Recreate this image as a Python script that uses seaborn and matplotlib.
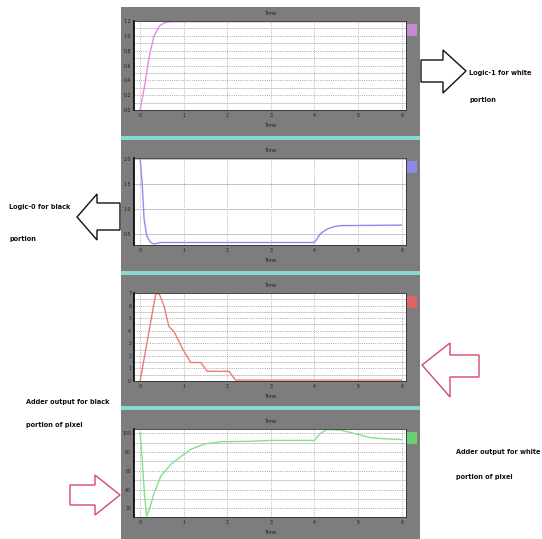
import numpy as np
import pandas as pd
import matplotlib
matplotlib.use("Agg")
import matplotlib.pyplot as plt
import seaborn as sns
from matplotlib.patches import Polygon, Rectangle, Patch
from matplotlib.ticker import MultipleLocator

# ---------------- data ----------------
x_ticks = [0, 1, 2, 3, 4, 5, 6]

t1 = [0, 0.09, 0.21, 0.32, 0.44, 0.55, 0.7, 6.1]
y1 = [0.0, 0.28, 0.72, 1.0, 1.13, 1.175, 1.19, 1.19]
y1_ticks = [0, 0.2, 0.4, 0.6, 0.8, 1.0, 1.2]

t2 = [0, 0.05, 0.09, 0.15, 0.24, 0.32, 0.47, 4.0, 4.07, 4.14, 4.29, 4.45, 4.6, 6.0]
y2 = [2.02, 1.48, 0.81, 0.46, 0.32, 0.29, 0.32, 0.32, 0.41, 0.50, 0.59, 0.64, 0.66, 0.67]
y2_ticks = [0.5, 1.0, 1.5, 2.0]

t3 = [0, 0.36, 0.44, 0.55, 0.66, 0.78, 0.97, 1.16, 1.39, 1.54, 2.04, 2.19, 6.0]
y3 = [0.0, 6.97, 6.93, 5.95, 4.34, 3.92, 2.59, 1.47, 1.47, 0.77, 0.77, 0.07, 0.07]
y3_ticks = [0, 1, 2, 3, 4, 5, 6, 7]

t4 = [0, 0.05, 0.1, 0.15, 0.22, 0.32, 0.48, 0.71, 0.94, 1.17, 1.48, 1.86, 2.5, 3.0,
      4.0, 4.07, 4.14, 4.29, 4.6, 4.98, 5.3, 5.6, 6.0]
y4 = [100.9, 70.0, 35.0, 11.5, 20.0, 36.0, 54.8, 67.1, 75.5, 83.1, 88.7, 91.1, 91.5, 92.5,
      92.5, 96.5, 100.0, 104.2, 103.6, 99.1, 95.3, 94.3, 93.4]
y4_ticks = [20, 40, 60, 80, 100]

panel_title = "Time"
panel_xlabel = "Time"

ann_logic1 = ["Logic-1 for white", "portion"]
ann_logic0 = ["Logic-0 for black", "portion"]
ann_add_black = ["Adder output for black", "portion of pixel"]
ann_add_white = ["Adder output for white", "portion of pixel"]

# ---------------- figure ----------------
sns.set_style("white")
W, H = 542, 539
fig = plt.figure(figsize=(W / 100, H / 100), dpi=100)
fig.patch.set_facecolor("white")

def fx(px):
    return px / W

def fy(py):
    return 1 - py / H

def rect_px(x0, y0, x1, y1, **kw):
    fig.add_artist(Rectangle((fx(x0), fy(y1)), fx(x1) - fx(x0), fy(y0) - fy(y1),
                             transform=fig.transFigure, **kw))

# gray scope background
rect_px(121, 7, 420, 539, facecolor="#7d7d7d", edgecolor="none", zorder=0)
# cyan separators
for yy in (136, 271, 406):
    rect_px(121, yy, 420, yy + 4, facecolor="#86d8d2", edgecolor="none", zorder=1)

panels = [
    (21, 110, t1, y1, (0, 1.2), y1_ticks, "#e58ae5", "#c58ad6", True),
    (158, 245, t2, y2, (0.27, 2.02), y2_ticks, "#8c8cf0", "#8a8ae6", False),
    (293, 381, t3, y3, (0, 7), y3_ticks, "#f07a7a", "#e06464", True),
    (429, 517, t4, y4, (10.6, 104.7), y4_ticks, "#86e08a", "#6ccf72", True),
]

for top, bot, tx, ty, ylim, yt, col, legcol, minor in panels:
    ax = fig.add_axes([fx(134), fy(bot), fx(406) - fx(134), fy(top) - fy(bot)])
    ax.set_facecolor("white")
    df = pd.DataFrame({"t": tx, "v": ty})
    sns.lineplot(data=df, x="t", y="v", ax=ax, color=col, linewidth=1.0)
    ax.set_xlim(-0.14, 6.1)
    ax.set_ylim(*ylim)
    ax.set_xticks(x_ticks)
    ax.set_yticks(yt)
    ax.tick_params(axis="both", labelsize=3.4, colors="#222222", length=1.5,
                   width=0.5, direction="in", pad=2)
    ax.grid(True, axis="x", which="major", linestyle=":", color="#9a9a9a", linewidth=0.6)
    if minor:
        step = yt[1] - yt[0]
        ax.yaxis.set_minor_locator(MultipleLocator(step / 2))
        ax.grid(True, axis="y", which="major", linestyle=":", color="#8a8a8a", linewidth=0.6)
        ax.grid(True, axis="y", which="minor", linestyle="-", color="#c8c8c8", linewidth=0.6)
        ax.tick_params(axis="y", which="minor", length=1, width=0.4, direction="in")
    else:
        ax.grid(True, axis="y", which="major", linestyle="-", color="#c4c4c4", linewidth=0.7)
    for s in ax.spines.values():
        s.set_color("#303030")
        s.set_linewidth(0.6)
    ax.spines["left"].set_linewidth(1.2)
    ax.spines["left"].set_color("black")
    ax.set_title(panel_title, fontsize=3.5, color="#222222", pad=4)
    ax.set_xlabel(panel_xlabel, fontsize=3.5, color="#222222", labelpad=4)
    ax.set_ylabel("")
    ax.legend(handles=[Patch(facecolor=legcol, edgecolor="none")], labels=[""],
              loc="upper left", bbox_to_anchor=(1.005, 0.97), frameon=False,
              handlelength=0.7, handleheight=0.9, borderpad=0, borderaxespad=0,
              handletextpad=0)

# ---------------- annotation arrows ----------------
def arrow_px(pts, edge):
    fig.add_artist(Polygon([(fx(a), fy(b)) for a, b in pts], closed=True,
                           transform=fig.transFigure, facecolor="white",
                           edgecolor=edge, linewidth=1.0, zorder=3))

# right-pointing black arrow (Logic-1)
arrow_px([(421, 60), (443, 60), (443, 50), (466, 71), (443, 93), (443, 82), (421, 82)], "#111111")
# left-pointing black arrow (Logic-0)
arrow_px([(120, 203), (97, 203), (97, 194), (77, 217), (97, 240), (97, 230), (120, 230)], "#111111")
# left-pointing red arrow (white adder)
arrow_px([(479, 355), (450, 355), (450, 343), (422, 365), (450, 397), (450, 377), (479, 377)], "#d24a66")
# right-pointing red arrow (black adder)
arrow_px([(70, 485), (95, 485), (95, 475), (120, 495), (95, 515), (95, 505), (70, 505)], "#d24a66")

# ---------------- annotation texts ----------------
tk = dict(fontsize=5.2, color="#111111", family=["DejaVu Sans"], fontstretch="condensed",
          fontweight="bold", va="center", ha="left", transform=fig.transFigure)

def two_lines(lines, x, y_first, y_second):
    fig.text(fx(x), fy(y_first), lines[0], **tk)
    fig.text(fx(x), fy(y_second), lines[1], **tk)

two_lines(ann_logic1, 469, 73, 100)
two_lines(ann_logic0, 9, 207, 239)
two_lines(ann_add_black, 26, 402, 425)
two_lines(ann_add_white, 456, 452, 477)

fig.savefig("out.png", dpi=100, facecolor="white")
